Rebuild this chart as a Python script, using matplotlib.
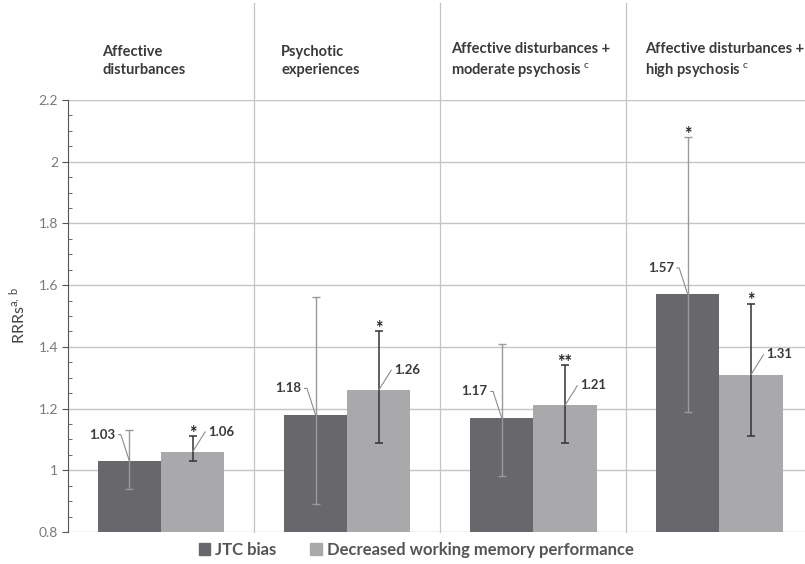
import matplotlib
matplotlib.use("Agg")
from matplotlib import pyplot as plt
from matplotlib.patches import Patch
from matplotlib.ticker import MultipleLocator
import numpy as np

plt.rcParams['font.family'] = ['Lato', 'DejaVu Sans']
plt.rcParams['mathtext.fontset'] = 'custom'
plt.rcParams['mathtext.rm'] = 'Lato'

groups = ["Affective\ndisturbances",
          "Psychotic\nexperiences",
          "Affective disturbances +\nmoderate psychosis $^{\\mathrm{c}}$",
          "Affective disturbances +\nhigh psychosis $^{\\mathrm{c}}$"]
jtc = [1.03, 1.18, 1.17, 1.57]
jtc_lo = [0.94, 0.89, 0.98, 1.19]
jtc_hi = [1.13, 1.56, 1.41, 2.08]
wm = [1.06, 1.26, 1.21, 1.31]
wm_lo = [1.03, 1.09, 1.09, 1.11]
wm_hi = [1.11, 1.45, 1.34, 1.54]
jtc_sig = ["", "", "", "*"]
wm_sig = ["*", "*", "**", "*"]
series = ["JTC bias", "Decreased working memory performance"]

c_jtc = "#68686c"
c_wm = "#a9a9ab"
grid_c = "#c4c4c4"
txt_c = "#3a3a3a"

fig = plt.figure(figsize=(8.05, 5.64), dpi=100)
ax = fig.add_axes([68/805, 32/564, 1 - 68/805, 432/564])

x = np.arange(len(groups))
w = 0.34
xj = x - w/2
xw = x + w/2

ax.bar(xj, jtc, w, bottom=0, color=c_jtc, zorder=2)
ax.bar(xw, wm, w, bottom=0, color=c_wm, zorder=2)

ej = [np.array(jtc) - np.array(jtc_lo), np.array(jtc_hi) - np.array(jtc)]
ew = [np.array(wm) - np.array(wm_lo), np.array(wm_hi) - np.array(wm)]
ax.errorbar(xj, jtc, yerr=ej, fmt='none', ecolor="#9a9a9a", elinewidth=1,
            capsize=3, capthick=1, zorder=3)
ax.errorbar(xw, wm, yerr=ew, fmt='none', ecolor="#333333", elinewidth=1.1,
            capsize=3, capthick=1.1, zorder=3)

# value labels with leader lines
for i in range(len(groups)):
    ax.annotate("%.2f" % jtc[i], xy=(xj[i], jtc[i]), xytext=(-10, 19),
                textcoords='offset points', ha='right', va='center',
                fontsize=9.5, fontweight='bold', color=txt_c, zorder=5,
                arrowprops=dict(arrowstyle='-', color="#8c8c8c", lw=0.8,
                                shrinkA=0, shrinkB=0, relpos=(1.0, 0.5),
                                connectionstyle="angle,angleA=0,angleB=108,rad=0"))
    ax.annotate("%.2f" % wm[i], xy=(xw[i], wm[i]), xytext=(11, 14.5),
                textcoords='offset points', ha='left', va='center',
                fontsize=9.5, fontweight='bold', color=txt_c, zorder=5,
                arrowprops=dict(arrowstyle='-', color="#8c8c8c", lw=0.8,
                                shrinkA=0, shrinkB=0, relpos=(0.0, 0.5),
                                connectionstyle="angle,angleA=0,angleB=58,rad=0"))
    if jtc_sig[i]:
        ax.annotate(jtc_sig[i], xy=(xj[i], jtc_hi[i]), xytext=(0, -4),
                    textcoords='offset points', ha='center', va='bottom',
                    fontsize=13, fontweight='bold', color="#222222")
    if wm_sig[i]:
        ax.annotate(wm_sig[i], xy=(xw[i], wm_hi[i]), xytext=(0, -4),
                    textcoords='offset points', ha='center', va='bottom',
                    fontsize=13, fontweight='bold', color="#222222")

ax.set_ylim(0.8, 2.2)
ax.set_xlim(-0.5, 3.46)
ax.yaxis.set_major_locator(MultipleLocator(0.2))
ax.yaxis.set_minor_locator(MultipleLocator(0.05))
ax.yaxis.set_major_formatter(plt.FuncFormatter(lambda v, p: "%g" % round(v, 2)))
ax.grid(axis='y', color=grid_c, lw=1, zorder=0)
ax.set_xticks([])
for s in ['top', 'right', 'bottom']:
    ax.spines[s].set_visible(False)
ax.spines['left'].set_color("#555555")
ax.tick_params(axis='y', which='major', direction='out', length=4,
               color="#555555", labelsize=10, labelcolor="#7a7a7a", pad=3)
ax.tick_params(axis='y', which='minor', direction='in', length=3,
               color="#555555")

# group separators running into the header
for s in [0.5, 1.5, 2.5]:
    ax.plot([s, s], [0, 1.225], transform=ax.get_xaxis_transform(),
            color=grid_c, lw=0.9, clip_on=False, zorder=1)

head_off = [-0.317, -0.355, -0.44, -0.40]
for i, g in enumerate(groups):
    ax.text(x[i] + head_off[i], 1.09, g, transform=ax.get_xaxis_transform(),
            ha='left', va='center', fontsize=10.5, fontweight='bold',
            color=txt_c, linespacing=1.4)

fig.text(18/805, 1 - 315/564, "RRRs$^{\\mathrm{a,\\,b}}$", rotation=90,
         ha='center', va='center', fontsize=11.5, color="#444444")

handles = [Patch(color=c_jtc), Patch(color=c_wm)]
fig.legend(handles, series, loc='center', bbox_to_anchor=(416/805, 1 - 550/564),
           ncol=2, frameon=False, handlelength=0.7, handleheight=0.7,
           handletextpad=0.3, columnspacing=2.0,
           prop=dict(weight='bold', size=12), labelcolor="#555555")

fig.savefig("out.png", dpi=100)
